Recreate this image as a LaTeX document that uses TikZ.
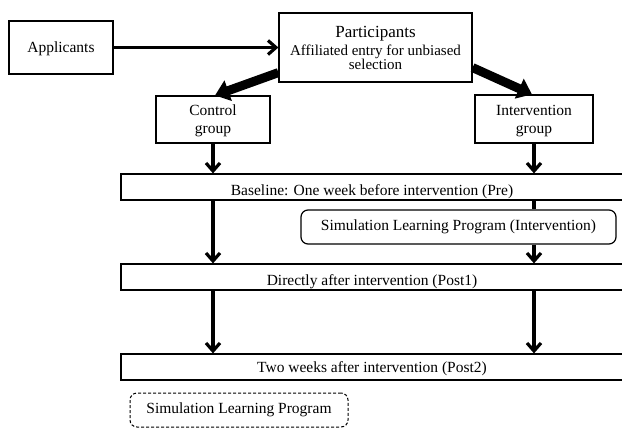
\documentclass[tikz,border=0pt]{standalone}
\usepackage{fontspec}
\setmainfont{Liberation Serif}
\usetikzlibrary{positioning,arrows.meta}

\begin{document}
\begin{tikzpicture}[
  x=1pt, y=-1pt,
  font=\fontsize{15.5}{18}\selectfont,
  box/.style={draw, line width=1.2pt, align=center, inner sep=0pt},
  stage/.style={box, minimum width=502pt, minimum height=26pt, text height=17pt, text depth=1pt},
  prog/.style={box, rounded corners=7pt, minimum height=34pt},
  flow/.style={-{Straight Barb[length=8pt,width=14pt]}, line width=3.2pt},
  split/.style={-{Triangle[length=14pt,width=21pt]}, line width=9pt},
]
\useasboundingbox (0,0) rectangle (622,429);
% ---- top row ----
\node[box, minimum width=104pt, minimum height=53pt, text depth=0pt] (app) at (61,47.5) {Applicants};
\node[box, minimum width=193pt, minimum height=69pt, text depth=-8pt] (part) at (375.5,47.5)
  {\fontsize{17}{19}\selectfont Participants\\[0pt]
   \fontsize{15}{15}\selectfont Affiliated entry for unbiased\\[-4pt]
   \fontsize{15}{15}\selectfont selection};
% ---- groups ----
\node[box, minimum width=114pt, minimum height=47pt, text depth=-1pt] (ctrl) at (213,119.5) {Control\\group};
\node[box, minimum width=118pt, minimum height=48pt, text depth=-1pt] (intv) at (534,119) {Intervention\\group};
% ---- measurement stages ----
\node[stage] (base) at (372,187) {Baseline: One week before intervention (Pre)};
\node[prog, minimum width=315pt] (sim) at (458.5,227) {Simulation Learning Program (Intervention)};
\node[stage] (post1) at (372,277) {Directly after intervention (Post1)};
\node[stage, text height=13pt, text depth=2.5pt] (post2) at (372,367) {Two weeks after intervention (Post2)};
% ---- legend ----
\node[prog, dash pattern=on 3pt off 2pt, line width=1pt, minimum width=218pt] (legend) at (239,410) {Simulation Learning Program};
% ---- arrows ----
\draw[flow] (app) -- (part);
\draw[split] ([yshift=10pt]part.south west) -- ([xshift=2pt]ctrl.north);
\draw[split] ([yshift=15pt]part.south east) -- ([xshift=-2pt]intv.north);
\foreach \g in {ctrl,intv} \draw[flow] (\g) -- (\g |- base.north);
\draw[flow] (ctrl |- base.south) -- (ctrl |- post1.north);
\draw[line width=3.2pt] (intv |- base.south) -- (intv |- sim.north);
\draw[flow] (intv |- sim.south) -- (intv |- post1.north);
\foreach \g in {ctrl,intv} \draw[flow] (\g |- post1.south) -- (\g |- post2.north);
\end{tikzpicture}
\end{document}
